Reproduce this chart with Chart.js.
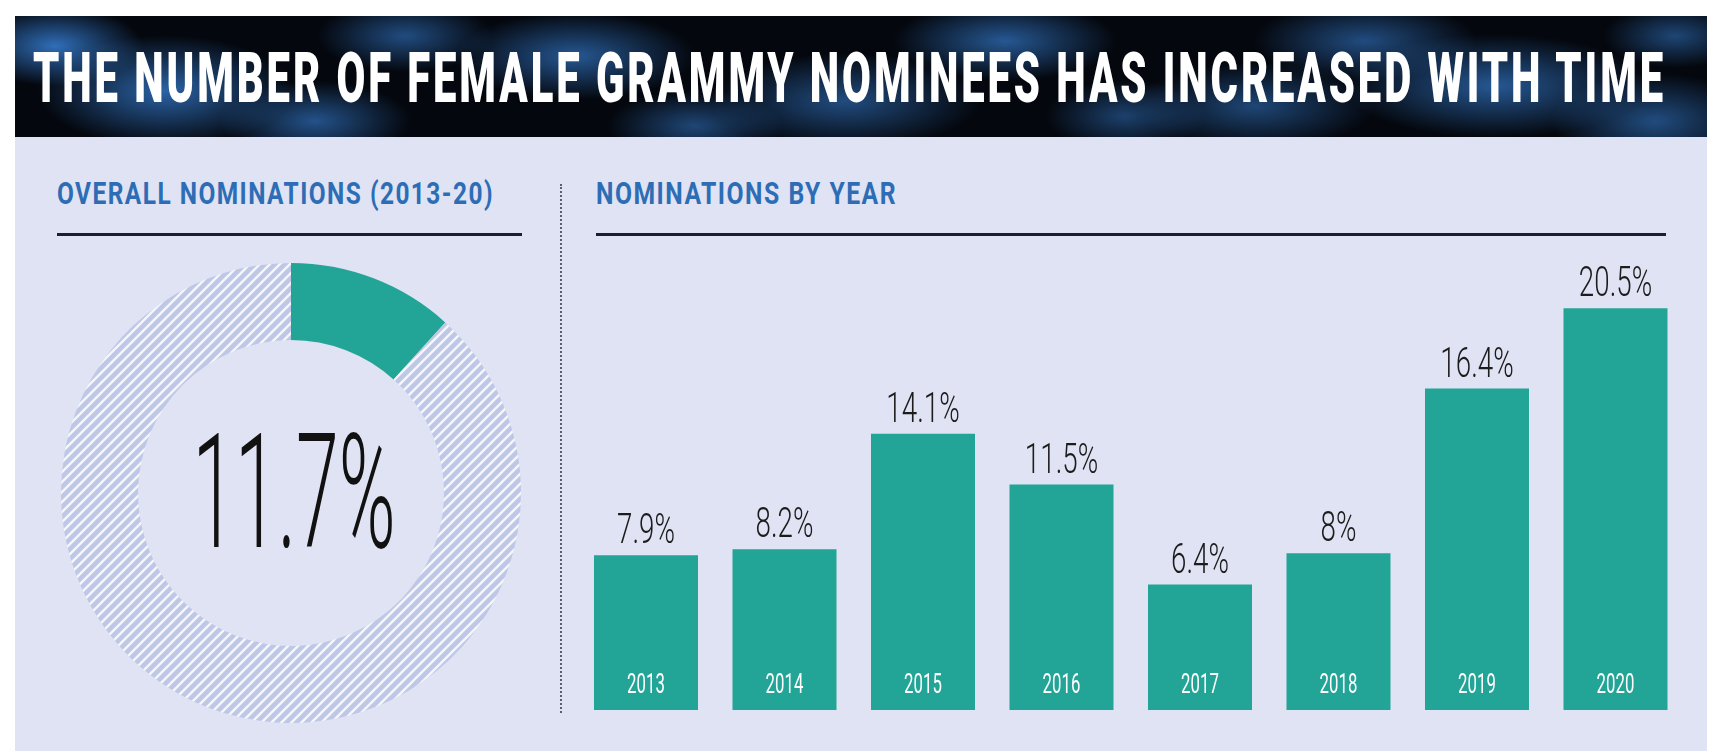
<!DOCTYPE html>
<html>
<head>
<meta charset="utf-8">
<script src="https://cdn.jsdelivr.net/npm/chart.js@4.4.1/dist/chart.umd.min.js"></script>
<style>
    html, body { margin: 0; padding: 0; background: #fff; }
    body { width: 1719px; height: 751px; position: relative; overflow: hidden; font-family: Roboto, "DejaVu Sans", sans-serif; }
    #banner {
        position: absolute; left: 15px; top: 16px; width: 1692px; height: 121px;
        background:
            radial-gradient(ellipse 110px 50px at 40px 30px, rgba(52, 122, 204, 0.9), rgba(52, 122, 204, 0) 80%),
            radial-gradient(ellipse 160px 70px at 150px 75px, rgba(52, 122, 204, 0.8), rgba(52, 122, 204, 0) 80%),
            radial-gradient(ellipse 120px 50px at 300px 105px, rgba(52, 122, 204, 0.65), rgba(52, 122, 204, 0) 80%),
            radial-gradient(ellipse 110px 45px at 390px 20px, rgba(52, 122, 204, 0.6), rgba(52, 122, 204, 0) 80%),
            radial-gradient(ellipse 150px 55px at 560px 40px, rgba(52, 122, 204, 0.7), rgba(52, 122, 204, 0) 80%),
            radial-gradient(ellipse 110px 45px at 680px 110px, rgba(52, 122, 204, 0.55), rgba(52, 122, 204, 0) 80%),
            radial-gradient(ellipse 170px 60px at 830px 85px, rgba(52, 122, 204, 0.6), rgba(52, 122, 204, 0) 80%),
            radial-gradient(ellipse 140px 50px at 990px 25px, rgba(52, 122, 204, 0.7), rgba(52, 122, 204, 0) 80%),
            radial-gradient(ellipse 100px 45px at 1110px 100px, rgba(52, 122, 204, 0.5), rgba(52, 122, 204, 0) 80%),
            radial-gradient(ellipse 150px 55px at 1240px 90px, rgba(52, 122, 204, 0.55), rgba(52, 122, 204, 0) 80%),
            radial-gradient(ellipse 140px 50px at 1350px 25px, rgba(52, 122, 204, 0.6), rgba(52, 122, 204, 0) 80%),
            radial-gradient(ellipse 190px 65px at 1480px 70px, rgba(52, 122, 204, 0.7), rgba(52, 122, 204, 0) 80%),
            radial-gradient(ellipse 130px 60px at 1640px 105px, rgba(52, 122, 204, 0.6), rgba(52, 122, 204, 0) 80%),
            radial-gradient(ellipse 90px 40px at 1660px 20px, rgba(52, 122, 204, 0.55), rgba(52, 122, 204, 0) 80%),
            #04070d;
    }
    #panel { position: absolute; left: 15px; top: 137px; width: 1692px; height: 614px; background: #e0e3f3; }
    .fit { position: absolute; white-space: nowrap; line-height: 1; transform-origin: 0 0; }
    #headline { color: #fff; font-weight: 900; font-size: 71px; letter-spacing: 0.07em; left: 33px; top: 42px; }
    .section { color: #2d6db5; font-weight: 700; font-size: 31px; letter-spacing: 0.06em; top: 178px; }
    .rule { position: absolute; height: 3px; background: #1d202c; top: 233px; }
    #divider { position: absolute; left: 560px; top: 184px; height: 529px; border-left: 2px dotted #5b5e70; }
    canvas { position: absolute; }
</style>
</head>
<body>
<div id="banner"></div>
<div id="panel"></div>
<div id="headline" class="fit">THE NUMBER OF FEMALE GRAMMY NOMINEES HAS INCREASED WITH TIME</div>
<div id="leftTitle" class="fit section" style="left:57px">OVERALL NOMINATIONS (2013-20)</div>
<div id="rightTitle" class="fit section" style="left:596px">NOMINATIONS BY YEAR</div>
<div class="rule" style="left:57px; width:465px"></div>
<div class="rule" style="left:596px; width:1070px"></div>
<div id="divider"></div>
<canvas id="donut" width="480" height="480" style="left:51px; top:253px"></canvas>
<canvas id="bars" width="1140" height="530" style="left:560px; top:200px"></canvas>
<script>
var overallShare = 11.7;
var years = ["2013", "2014", "2015", "2016", "2017", "2018", "2019", "2020"];
var femaleShare = [7.9, 8.2, 14.1, 11.5, 6.4, 8, 16.4, 20.5];

var teal = "#22a596";

function fitText(id, width) {
    var el = document.getElementById(id);
    var w = el.getBoundingClientRect().width;
    el.style.transform = "scaleX(" + (width / w) + ")";
}

function drawSquashed(ctx, text, x, y, font, color, sx) {
    ctx.save();
    ctx.translate(x, y);
    ctx.scale(sx, 1);
    ctx.font = font;
    ctx.fillStyle = color;
    ctx.textAlign = "center";
    ctx.textBaseline = "alphabetic";
    ctx.fillText(text, 0, 0);
    ctx.restore();
}

function makeHatch() {
    var c = document.createElement("canvas");
    c.width = 10;
    c.height = 10;
    var g = c.getContext("2d");
    g.fillStyle = "#bfc7e7";
    g.fillRect(0, 0, 10, 10);
    g.strokeStyle = "#f5f6fc";
    g.lineWidth = 2.4;
    g.beginPath();
    g.moveTo(0, 10); g.lineTo(10, 0);
    g.moveTo(-5, 5); g.lineTo(5, -5);
    g.moveTo(5, 15); g.lineTo(15, 5);
    g.stroke();
    return g.createPattern(c, "repeat");
}

fitText("headline", 1633);
fitText("leftTitle", 437);
fitText("rightTitle", 301);

// big number in the middle of the ring
var centerText = {
    id: "centerText",
    afterDraw: function (chart) {
        var arc = chart.getDatasetMeta(0).data[0];
        var ctx = chart.ctx;
        var text = overallShare + "%";
        ctx.save();
        ctx.font = "300 160px Roboto";
        var w = ctx.measureText(text).width;
        ctx.restore();
        drawSquashed(ctx, text, arc.x + 3, arc.y + 54, "300 160px Roboto", "#111", 203 / w);
    }
};

new Chart(document.getElementById("donut"), {
    type: "doughnut",
    data: {
        labels: ["Female", "Other"],
        datasets: [{
            data: [overallShare, 100 - overallShare],
            backgroundColor: [teal, makeHatch()],
            borderWidth: 0
        }]
    },
    options: {
        responsive: false,
        animation: false,
        cutout: "66.5%",
        layout: { padding: 10 },
        plugins: { legend: { display: false }, tooltip: { enabled: false } }
    },
    plugins: [centerText]
});

var barLabels = {
    id: "barLabels",
    afterDatasetsDraw: function (chart) {
        var ctx = chart.ctx;
        chart.getDatasetMeta(0).data.forEach(function (bar, i) {
            drawSquashed(ctx, femaleShare[i] + "%", bar.x, bar.y - 12, "300 42px Roboto", "#1c1c1c", 0.66);
            drawSquashed(ctx, years[i], bar.x, bar.base - 17, "400 28px Roboto", "#ffffff", 0.6);
        });
    }
};

new Chart(document.getElementById("bars"), {
    type: "bar",
    data: {
        labels: years,
        datasets: [{
            data: femaleShare,
            backgroundColor: teal,
            borderWidth: 0,
            categoryPercentage: 1,
            barPercentage: 0.751
        }]
    },
    options: {
        responsive: false,
        animation: false,
        layout: { padding: { left: 16.75, right: 15.25, top: 20, bottom: 20 } },
        scales: {
            x: { display: false },
            y: { display: false, min: 0, max: 25 }
        },
        plugins: { legend: { display: false }, tooltip: { enabled: false } }
    },
    plugins: [barLabels]
});
</script>
</body>
</html>
